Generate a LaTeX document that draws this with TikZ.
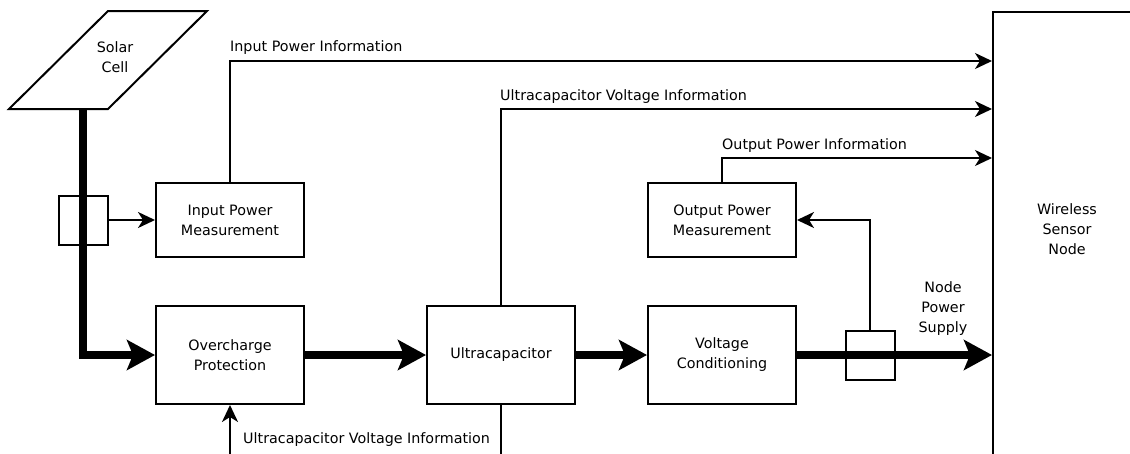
\documentclass[tikz,border=0pt]{standalone}
\usepackage{fontspec}
\setmainfont{DejaVu Sans}
\usetikzlibrary{arrows.meta}
\begin{document}
\begin{tikzpicture}[x=1pt,y=-1pt,
  every node/.style={font=\fontsize{14.3}{20}\selectfont},
  box/.style={draw,line width=2pt,minimum width=148pt,align=center,inner sep=0pt},
  bigbox/.style={box,minimum height=98pt},
  smallbox/.style={box,minimum height=74pt},
  sensor/.style={draw,line width=2pt,minimum width=49pt,minimum height=49pt,inner sep=0pt},
  txt/.style={align=center,inner sep=0pt},
  lbl/.style={anchor=base west,inner sep=0pt},
  wire/.style={line width=2pt},
  sig/.style={line width=2pt,-{Stealth[length=17pt,width=16pt,inset=5pt]}},
  pow/.style={line width=8.5pt,-{Stealth[length=28pt,width=30pt,inset=6pt]}}]
\useasboundingbox (0,0) rectangle (1130,453);
\clip (0,0) rectangle (1130,453);

% solar cell
\draw[wire] (108,11) -- (207,11) -- (108,109) -- (9,109) -- cycle;
\node[txt] (solar) at (115,57.5) {Solar\\Cell};
\coordinate (scb) at (83,109);

% blocks
\node[smallbox] (inpm) at (230,220) {Input Power\\Measurement};
\node[bigbox] (ocp) at (230,355) {Overcharge\\Protection};
\node[bigbox] (ucap) at (501,355) {Ultracapacitor};
\node[bigbox] (vc) at (722,355) {Voltage\\Conditioning};
\node[smallbox] (outpm) at (722,220) {Output Power\\Measurement};
\node[draw,line width=2pt,minimum width=160pt,minimum height=480pt,anchor=north west,inner sep=0pt] (wsn) at (992,11) {};
\node[txt] (wsnt) at (1067,229) {Wireless\\Sensor\\Node};

% power path
\draw[pow] (scb) |- (ocp.west);
\draw[pow] (ocp.east) -- (ucap.west);
\draw[pow] (ucap.east) -- (vc.west);
\draw[pow] (vc.east) -- (vc.east -| wsn.west);
\node[txt] (nps) at (943,309) {Node\\Power\\Supply};

% sensors
\node[sensor] (s1) at (83,220) {};
\node[sensor] (s2) at (870,355.5) {};
\draw[sig] (s1.east) -- (inpm.west);
\draw[sig] (s2.north) |- (outpm.east);

% information lines
\draw[sig] (inpm.north) |- ([yshift=-50pt]wsn.north west);
\node[lbl] (l1) at (230,51) {Input Power Information};
\draw[sig] (ucap.north) |- ([yshift=-98pt]wsn.north west);
\node[lbl] (l2) at (500,100) {Ultracapacitor Voltage Information};
\draw[sig] (outpm.north) |- ([yshift=-147pt]wsn.north west);
\node[lbl] (l3) at (722,149) {Output Power Information};

% feedback at bottom
\draw[wire] (ucap.south) -- ++(0,60);
\draw[sig] ([yshift=-60pt]ocp.south) -- (ocp.south);
\node[lbl] (l4) at (243,443) {Ultracapacitor Voltage Information};
\end{tikzpicture}
\end{document}
